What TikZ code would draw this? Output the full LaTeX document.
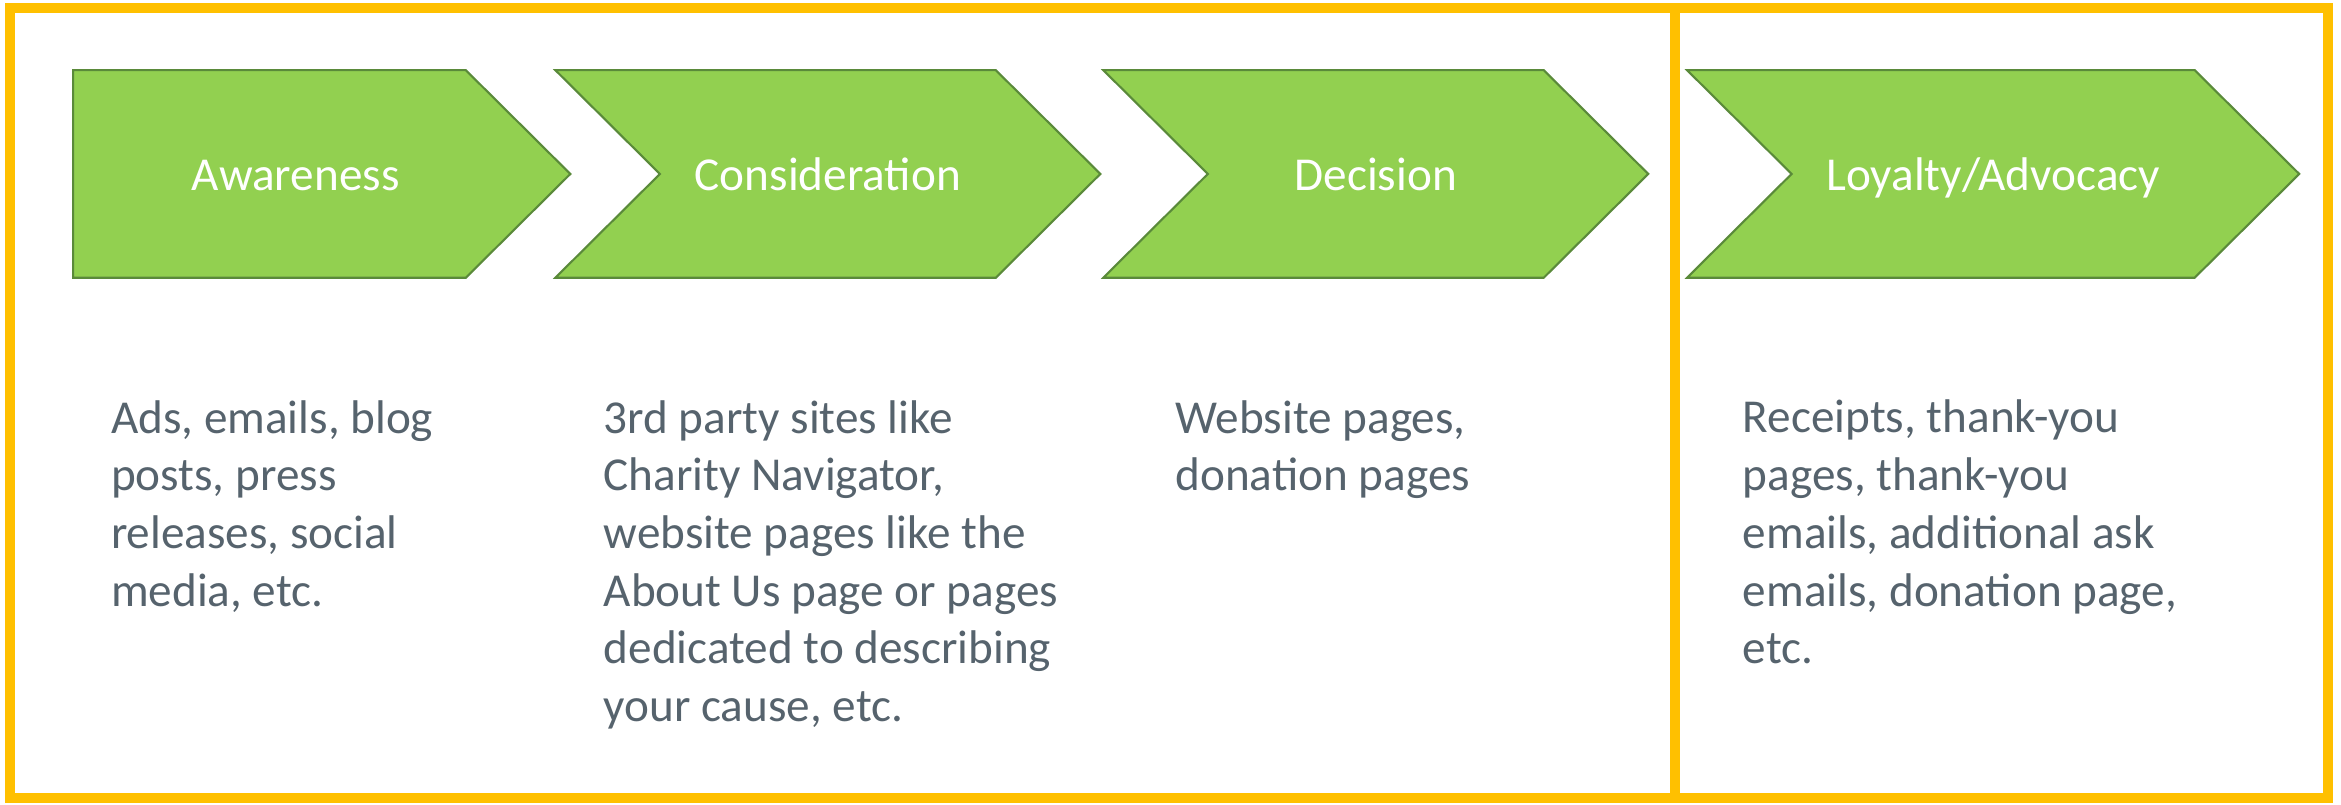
\documentclass[tikz,border=0pt]{standalone}
\usepackage{fontspec}
\setmainfont{Carlito}
\usepackage{xcolor}
\definecolor{frame}{HTML}{FFC000}
\definecolor{stagefill}{HTML}{92D050}
\definecolor{stageline}{HTML}{5A8A3A}
\definecolor{bodytext}{HTML}{56636D}
\usepackage{tikz}

\begin{document}
\begin{tikzpicture}[x=0.02cm, y=-0.02cm,
    every node/.style={font=\fontsize{18}{22}\selectfont},
    touchpoints/.style={text=bodytext, align=left, anchor=base west, inner sep=0pt}]
  \useasboundingbox (0,0) rectangle (1568,539);

  % Outer frames: journey stages and after-gift stage
  \draw[frame, line width=3.8pt] (6.5,5.5) rectangle (1122,534.5);
  \draw[frame, line width=3.8pt] (1122,5.5) rectangle (1559.5,534.5);

  \def\stageTop{47}
  \def\stageBot{186}
  \def\stageMid{116.5}
  \def\tipD{70}

  % Stage chevrons
  \def\stage#1#2#3#4#5#6{%
    \pgfmathsetmacro{\xtip}{#3+\tipD}
    \pgfmathsetmacro{\xnotch}{#2+#4}
    \draw[fill=stagefill, draw=stageline, line width=0.8pt, line join=miter]
      (#2,\stageTop) -- (#3,\stageTop) -- (\xtip,\stageMid) -- (#3,\stageBot)
      -- (#2,\stageBot) -- (\xnotch,\stageMid) -- cycle;
    \node[text=white, anchor=base] (#1) at (#5,127.5) {#6};
  }
  \stage{awareness}{49}{312}{0}{198}{Awareness}
  \stage{consideration}{372}{667}{70}{554.5}{Consideration}
  \stage{decision}{739}{1034}{70}{921.5}{Decision}
  \stage{loyalty}{1130}{1470}{70}{1335}{Loyalty/Advocacy}

  % Touchpoints under each stage (placed by the baseline of the last line)
  \node[touchpoints] (awarenessText) at (74,406)
    {Ads, emails, blog\\posts, press\\releases, social\\media, etc.};
  \node[touchpoints] (considerationText) at (404,483.3)
    {3rd party sites like\\Charity Navigator,\\website pages like the\\About Us page or pages\\dedicated to describing\\your cause, etc.};
  \node[touchpoints] (decisionText) at (787,328.7)
    {Website pages,\\donation pages};
  \node[touchpoints] (loyaltyText) at (1167,444.6)
    {Receipts, thank-you\\pages, thank-you\\emails, additional ask\\emails, donation page,\\etc.};
\end{tikzpicture}
\end{document}
